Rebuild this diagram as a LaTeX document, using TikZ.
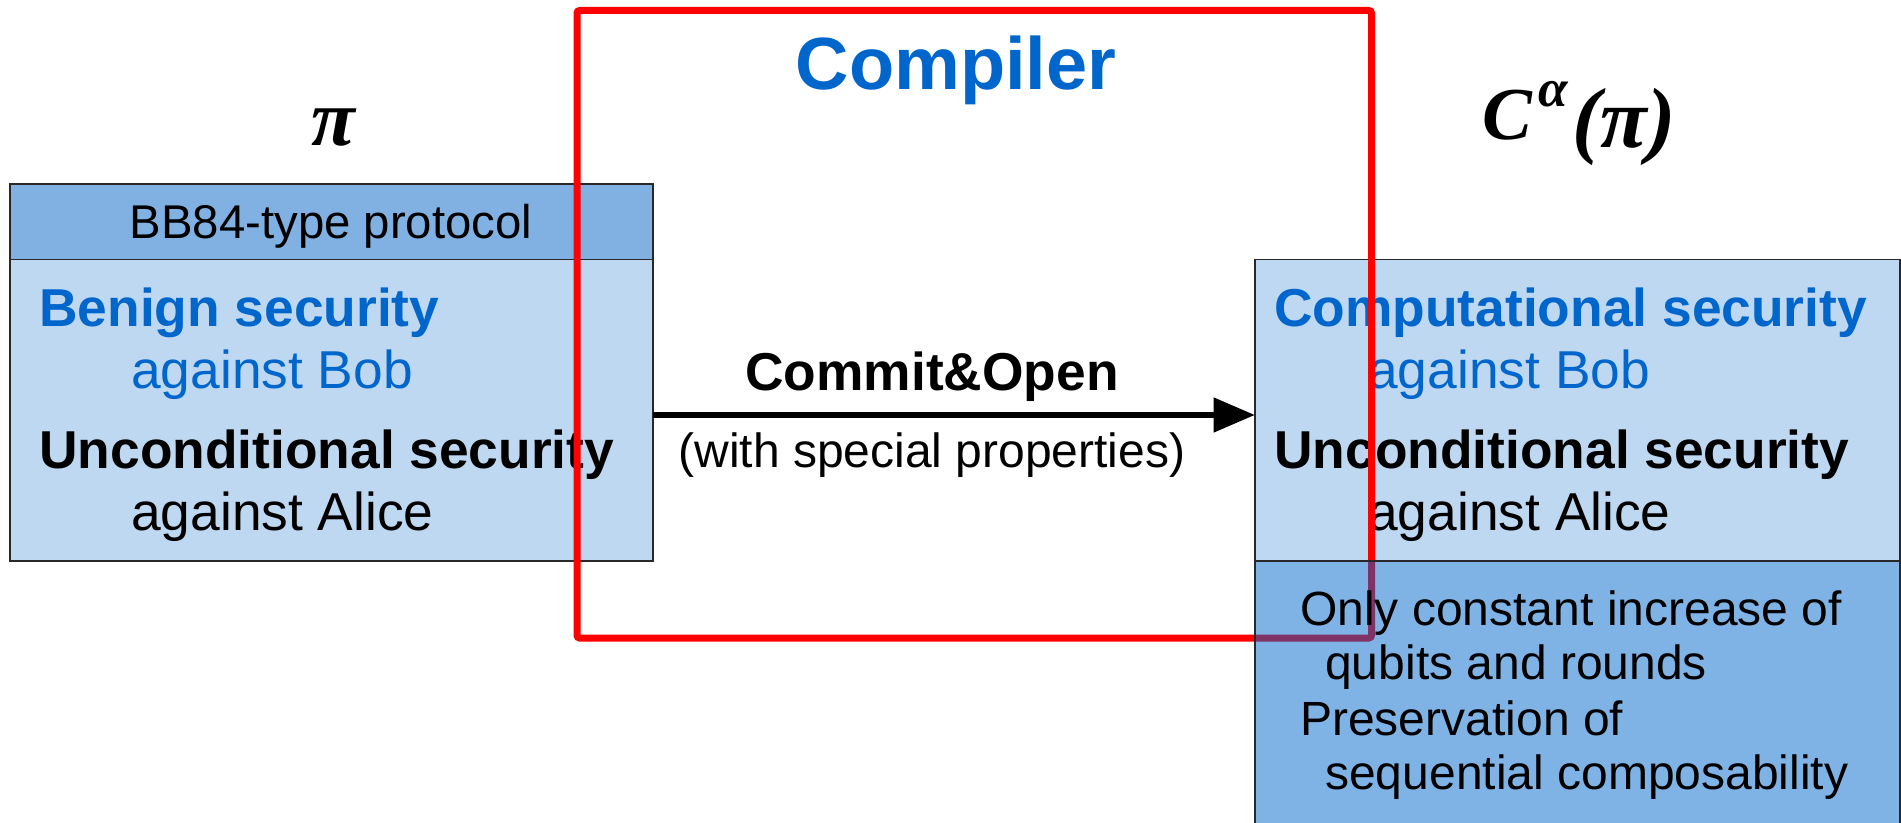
\documentclass[tikz,border=0pt]{standalone}
\usepackage{fontspec}
\setmainfont{Liberation Sans}
\newfontfamily\timesfont{Liberation Serif}
\usetikzlibrary{arrows.meta}

\definecolor{headblue}{RGB}{128,177,226}
\definecolor{paleblue}{RGB}{190,216,241}
\definecolor{deepblue}{RGB}{0,102,204}
\definecolor{framered}{RGB}{255,0,0}
\definecolor{edgegray}{RGB}{40,40,40}

\tikzset{
  panel/.style={draw=edgegray, line width=1pt, inner sep=0pt, outer sep=0pt, anchor=north west},
  txt/.style={font=\fontsize{40}{48}\selectfont, inner sep=0pt, anchor=base west},
  txtbold/.style={txt, font=\fontsize{40}{48}\selectfont\bfseries},
  note/.style={font=\fontsize{36}{43}\selectfont, inner sep=0pt, anchor=base west},
  formula/.style={font=\fontsize{56}{62}\timesfont\bfseries\itshape, inner sep=0pt, anchor=base},
  flow/.style={line width=5pt, -{Triangle[length=31pt,width=25pt]}},
}

\begin{document}
\begin{tikzpicture}[x=0.75pt,y=0.75pt,yscale=-1,xscale=1]
\clip (0,0) rectangle (1901,823);

% protocol on the left
\node (lhead) [panel, fill=headblue, minimum width=482.25pt, minimum height=56.6pt] at (10,184) {};
\node (lbody) [panel, fill=paleblue, minimum width=482.25pt, minimum height=226.1pt] at (10,259.5) {};
\node (bbtxt) [inner sep=0pt, anchor=base, font=\fontsize{35.5}{40}\selectfont] at (331,239) {BB84-type protocol};
\node (lbenign) [txtbold, text=deepblue] at (39,327) {Benign security};
\node (lbob) [txt, text=deepblue] at (131,388) {against Bob};
\node (luncond) [txtbold] at (39,468) {Unconditional security};
\node (lalice) [txt] at (131,530) {against Alice};

% compiled protocol on the right
\node (rtop) [panel, fill=paleblue, minimum width=483.75pt, minimum height=226.1pt] at (1255,259.5) {};
\node (rcomp) [txtbold, text=deepblue] at (1274,327) {Computational security};
\node (rbob) [txt, text=deepblue] at (1368,388) {against Bob};
\node (runcond) [txtbold] at (1274,468) {Unconditional security};
\node (ralice) [txt] at (1368,530) {against Alice};

% compiler frame
\node (comp) [inner sep=0pt, anchor=base, text=deepblue, font=\fontsize{55.5}{60}\selectfont\bfseries] at (956,90) {Compiler};
\draw [framered, line width=5.25pt, rounded corners=2pt] (577,10.5) rectangle (1371.5,638);

% overhead part, drawn see-through over the frame
\node (rfoot) [panel, fill=deepblue, fill opacity=0.5, minimum width=483.75pt, minimum height=202.5pt] at (1255,561) {};
\node (ronly) [note] at (1300,625) {Only constant increase of};
\node (rqubit) [note] at (1325,679) {qubits and rounds};
\node (rpres) [note] at (1300,735) {Preservation of};
\node (rseq) [note] at (1325,789) {sequential composability};

% the arrow and its labels
\draw [flow] (lbody.east |- 0,415) -- (rtop.west |- 0,415);
\node (co) [inner sep=0pt, anchor=base, font=\fontsize{40}{48}\selectfont\bfseries] at (932,390) {Commit\&Open};
\node (special) [inner sep=0pt, anchor=base, font=\fontsize{36}{43}\selectfont] at (932,467) {(with special properties)};

% protocol names
\node (pi) [formula, font=\fontsize{60}{66}\timesfont\bfseries\itshape] at (333,146) {π};
\node (cpi) [formula, anchor=base west] at (1482,140) {C\hspace{5pt}\raisebox{25pt}{\fontsize{40}{40}\selectfont α}\hspace{3pt}\raisebox{-6pt}{\fontsize{64}{70}\selectfont(π)}};

\end{tikzpicture}
\end{document}
